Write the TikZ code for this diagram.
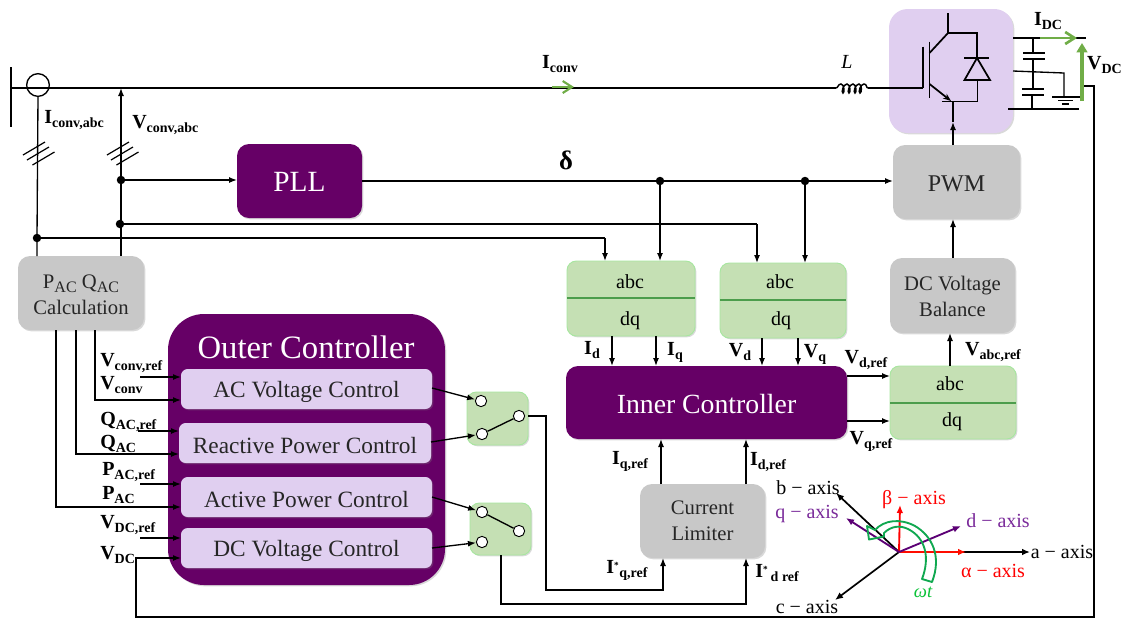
\documentclass[tikz,border=0pt]{standalone}
\usepackage{fontspec}
\setmainfont{Liberation Serif}
\usetikzlibrary{arrows.meta,shadows,calc}
\definecolor{pur}{HTML}{660066}
\definecolor{lav}{HTML}{E0CFF0}
\definecolor{grn}{HTML}{C5E0B4}
\definecolor{grnb}{HTML}{A8E6A0}
\definecolor{gry}{HTML}{C8C8C8}
\definecolor{arr}{HTML}{70AD47}
\definecolor{axp}{HTML}{7A2A9A}
\definecolor{wtg}{HTML}{10A850}
\newcommand{\lb}[2]{{\bfseries\fontsize{15}{15}\selectfont #1\raisebox{-0.45ex}{\fontsize{10.5}{12}\selectfont #2}}}
\newcommand{\fs}[1]{\fontsize{#1}{#1}\selectfont}
\newcommand{\dn}[2]{\raisebox{-#1pt}[\height][\depth]{#2}}
\tikzset{
 x=0.75pt,y=-0.75pt,
 sz/.style 2 args={minimum width=#1*0.75pt,minimum height=#2*0.75pt,inner sep=0pt,outer sep=0pt},
 sh/.style={drop shadow={opacity=.3,shadow xshift=1pt,shadow yshift=-1pt}},
 purbox/.style={fill=pur,text=white,rounded corners=9pt,sh,align=center},
 lavbox/.style={fill=lav,rounded corners=5pt,sh,align=center,text=black!85},
 grnbox/.style={fill=grn,draw=grnb,line width=.7pt,rounded corners=7pt,sh,align=center},
 grybox/.style={fill=gry,rounded corners=9pt,sh,align=center,text=black!85},
 wire/.style={line width=1pt,black},
 ar/.style={wire,-{Latex[length=6pt,width=4.5pt]}},
 lab/.style={inner sep=0pt,anchor=west},
 tlab/.style={inner sep=0pt},
 dot/.style={circle,fill=black,minimum size=8.5pt*0.75,inner sep=0pt},
 cnt/.style={circle,draw=black,fill=white,line width=.7pt,minimum size=8.5pt,inner sep=0pt},
 axtx/.style={inner sep=0pt,font=\fs{15}},
 grnarr/.style={line width=2pt,arr},
 pw/.style={line width=1.3pt},
}
\begin{document}
\begin{tikzpicture}
\useasboundingbox (0,0) rectangle (1123,619);
% boxes
\node[purbox,sz={125}{74},font=\fs{22}] (pll) at (299.5,181) {\dn{1}{PLL}};
\node[grybox,sz={127}{74},font=\fs{18}] (pwm) at (956.5,182) {\dn{1.5}{PWM}};
\node[fill=lav,rounded corners=14pt,sz={124}{124},sh] (conv) at (951,71) {};
\node[grybox,sz={126}{74},font=\fs{15.5}] (pq) at (81,293) {\dn{1.5}{\shortstack[c]{P\raisebox{-.35ex}{\fs{12}AC} Q\raisebox{-.35ex}{\fs{12}AC}\\[3pt]Calculation}}};
\node[purbox,rounded corners=27pt,sz={277}{271}] (outer) at (306.5,449.5) {};
\node[tlab,text=white,font=\fs{24.5}] (outt) at (306,347) {Outer Controller};
\node[lavbox,sz={251}{40},font=\fs{17.5}] (acv) at (306.5,389) {\dn{2}{AC Voltage Control}};
\node[lavbox,sz={252}{40},font=\fs{17.5}] (rpc) at (305,443) {\dn{2}{Reactive Power Control}};
\node[lavbox,sz={251}{40},font=\fs{17.5}] (apc) at (306.5,497) {\dn{2}{Active Power Control}};
\node[lavbox,sz={251}{40},font=\fs{17.5}] (dcv) at (306.5,548) {\dn{2}{DC Voltage Control}};
\node[purbox,sz={281}{73},font=\fs{20.8}] (inner) at (706.5,402.5) {\dn{1.5}{Inner Controller}};
\node[grnbox,sz={128}{75}] (abcA) at (631,298.5) {};
\node[grnbox,sz={126}{75}] (abcB) at (783,300.5) {};
\node[grnbox,sz={126}{73}] (abcC) at (953,402.5) {};
\node[grybox,sz={125}{75},font=\fs{15.5}] (dcb) at (952.5,295.5) {\dn{.7}{\shortstack[c]{DC Voltage\\[3pt]Balance}}};
\node[grybox,sz={125}{74},font=\fs{15.5}] (lim) at (702.5,521) {\shortstack[c]{Current\\[6pt]Limiter}};
\node[grnbox,sz={61}{53}] (swA) at (497.5,418.5) {};
\node[grnbox,sz={61}{52}] (swB) at (500.5,529) {};
% abc dividers and texts
\foreach \n/\y in {abcA/298,abcB/300,abcC/403}{
 \draw[line width=.9pt,green!45!black!70] (\n.west |- 0,\y) -- (\n.east |- 0,\y);}
\node[tlab,font=\fs{15}] (a1) at (630,282) {abc};
\node[tlab,font=\fs{15}] (d1) at (630,321) {dq};
\node[tlab,font=\fs{15}] (a2) at (780,282) {abc};
\node[tlab,font=\fs{15}] (d2) at (781,321) {dq};
\node[tlab,font=\fs{15}] (a3) at (950,384) {abc};
\node[tlab,font=\fs{15}] (d3) at (952,422) {dq};
% grid
\coordinate (busT) at (11,67); \coordinate (busB) at (11,127);
\draw[line width=1.3pt] (busT) -- (busB);
\coordinate (ind) at (836,88);
\coordinate (bus0) at (11,88);
\coordinate (indR) at (868,88);
\draw[line width=1.3pt] (bus0) -- (ind);
\draw[line width=1.1pt] (ind) .. controls (838,88) and (838,84) .. (841,84)
 .. controls (844,84) and (845,93) .. (843,93) .. controls (841,93) and (843,84) .. (847,84)
 .. controls (850,84) and (851,93) .. (849,93) .. controls (847,93) and (849,84) .. (853,84)
 .. controls (856,84) and (857,93) .. (855,93) .. controls (853,93) and (855,84) .. (859,84)
 .. controls (862,84) and (862,93) .. (860,93) .. controls (858,93) and (860,84) .. (864,84)
 .. controls (867,84) and (866,88) .. (indR);
\node[circle,draw=black,line width=1pt,minimum size=17pt,inner sep=0pt] (ct) at (38,85) {};
\node[dot] (dI) at (37,238) {};
\node[dot] (dV1) at (121,180) {};
\node[dot] (dV2) at (120,224) {};
\node[dot] (dP1) at (660,181) {};
\node[dot] (dP2) at (805,181) {};
\draw[wire] (ct.south) -- (dI.center) -- (dI |- pq.north);
\coordinate (busV) at (121,88);
\draw[ar] (pq.north -| busV) -- (busV);
\foreach \x in {0,84}{
 \foreach \dx/\dy in {34/148.5,38/153.5,43.5/158.5}{
  \draw[line width=.9pt] ({\x+\dx-11},{\dy+6.5}) -- ({\x+\dx+11},{\dy-6.5});
 }}
\draw[ar] (dV1.center) -- (pll.west |- dV1);
\draw[ar] (pll.east) -- (pll.east -| pwm.west);
\draw[wire] (dV2.center) -- (757,224) coordinate (c1);
\draw[ar] (c1) -- (c1 |- abcB.north);
\draw[wire] (dI.center) -- (605,238) coordinate (c2);
\draw[ar] (c2) -- (c2 |- abcA.north);
\draw[ar] (dP1.center) -- (dP1 |- abcA.north);
\draw[ar] (dP2.center) -- (dP2 |- abcB.north);
\foreach \x in {612,656}{\draw[ar] (\x,0 |- abcA.south) -- (\x,0 |- inner.north);}
\foreach \x in {762,798}{\draw[ar] (\x,0 |- abcB.south) -- (\x,0 |- inner.north);}
\foreach \y in {376,421}{\draw[ar] (inner.east |- 0,\y) -- (abcC.west |- 0,\y);}
\draw[ar] (abcC.north -| 950,0) -- (950,0 |- dcb.south);
\draw[ar] (dcb.north -| 953,0) -- (953,0 |- pwm.south);
\draw[ar] (lim.north -| 661,0) -- (661,0 |- inner.south);
\draw[ar] (lim.north -| 746,0) -- (746,0 |- inner.south);
% PQ to outer
\draw[ar] (pq.south -| 95,0) -- (95,400) -- (acv.west |- 0,400);
\draw[ar] (pq.south -| 76,0) -- (76,454) -- (rpc.west |- 0,454);
\draw[ar] (pq.south -| 56,0) -- (56,507) -- (apc.west |- 0,507);
\coordinate (r1) at (140,377); \coordinate (r2) at (138,431); \coordinate (r3) at (140,484); \coordinate (r4) at (140,538);
\draw[ar] (r1) -- (acv.west |- r1);
\draw[ar] (r2) -- (rpc.west |- r2);
\draw[ar] (r3) -- (apc.west |- r3);
\draw[ar] (r4) -- (dcv.west |- r4);
% switches
\node[cnt] (s1a) at (481,401) {}; \node[cnt] (s1b) at (482,434) {}; \node[cnt] (s1c) at (519,416) {};
\node[cnt] (s2a) at (482,512) {}; \node[cnt] (s2b) at (482,542) {}; \node[cnt] (s2c) at (519,531) {};
\draw[wire] (s1b) -- (s1c);
\draw[wire] (s2a) -- (s2c);
\draw[ar] (acv.east |- 0,388) -- (s1a);
\draw[ar] (rpc.east |- 0,442) -- (s1b);
\draw[ar] (apc.east |- 0,497) -- (s2a);
\draw[ar] (dcv.east |- 0,548) -- (s2b);
\draw[ar] (swA.east |- s1c) -- (546,0 |- s1c) -- (546,590) -- (663,590) -- (663,0 |- lim.south);
\draw[ar] (swB.south -| 501,0) -- (501,604) -- (746,604) -- (746,0 |- lim.south);
% DC feedback
\coordinate (fb1) at (136,558); \coordinate (fb2) at (136,617); \coordinate (fb3) at (1094,617); \coordinate (fb4) at (1094,86); \coordinate (fb5) at (1083,86);
\draw[ar] (fb5) -- (fb4) -- (fb3) -- (fb2) -- (fb1) -- (dcv.west |- fb1);
% converter
\draw[pw] (indR) -- (923,88);
\draw[pw] (923,46.5) -- (923,88);
\draw[pw] (929.5,41.5) -- (929.5,98);
\draw[pw] (948,13) -- (948,33) -- (929.5,53);
\draw[pw] (948,33) -- (977,33) -- (977,58);
\draw[pw] (964,58) -- (989,58);
\draw[pw] (977,58) -- (964.5,80) -- (990,80) -- cycle;
\draw[pw] (977.5,80) -- (977.5,101.5) -- (942,101.5);
\draw[pw,-{Stealth[length=6pt,width=4.5pt]}] (929.5,84) -- (951,101);
\draw[ar] (pwm.north -| 953,0) -- (953,122);
\draw[wire] (953,122) -- (953,101.5);
% dc side
\draw[pw] (1013,38) -- (1086,38);
\draw[line width=1pt] (1013,71) -- (1064,73) -- (1064,97);
\draw[line width=1pt] (1008,109) -- (1079,109);
\draw[pw] (1033,38) -- (1033,53);
\draw[pw] (1033,59) -- (1033,89);
\draw[pw] (1032,95) -- (1032,109);
\draw[line width=1.3pt] (1023,53) -- (1045,53) (1023,59) -- (1045,59) (1022,89) -- (1044,89) (1022,95) -- (1044,95);
\draw[line width=1pt] (1052,97) -- (1080,97) (1058,100.5) -- (1073,100.5) (1062,104) -- (1069,104);
\draw[grnarr,-{Straight Barb[length=7pt,width=9pt]}] (1040,38) -- (1077,38);
\draw[grnarr,line width=2.4pt,-{Triangle[length=7pt,width=8pt]}] (1082,101) -- (1082,43);
\draw[grnarr,line width=1.6pt,-{Straight Barb[length=7pt,width=9pt]}] (552,87) -- (574,87);
% axes
\coordinate (o) at (899,552);
\draw[line width=1.3pt,-{Latex[length=6pt,width=5pt]}] (o) -- (1030,552);
\draw[line width=1.3pt,-{Latex[length=6pt,width=5pt]}] (o) -- (836,493);
\draw[line width=1.3pt,-{Latex[length=6pt,width=5pt]}] (o) -- (835,600);
\draw[line width=1.8pt,red!90!orange,-{Latex[length=6pt,width=5pt]}] (o) -- (966,552);
\draw[line width=1.4pt,red,-{Latex[length=6pt,width=5pt]}] (o) -- (900,505);
\draw[line width=1.4pt,pur!90!blue,-{Latex[length=6pt,width=5pt]}] (o) -- (961,526);
\draw[line width=1.4pt,pur!90!blue,-{Latex[length=6pt,width=5pt]}] (o) -- (846,518);
\draw[wtg,line width=1.4pt,line join=round] (922,579) .. controls (930,558) and (926,538) .. (908,529)
 .. controls (900,525) and (891,526) .. (884,533) -- (884,536.5) -- (869,539.5) -- (867,526) -- (875,530)
 .. controls (884,520) and (900,518) .. (915,526) .. controls (932,536) and (942,556) .. (932,582) -- cycle;
% labels
\node[lab] (lIabc) at (44,120) {\lb{I}{conv,abc}};
\node[lab] (lVabc) at (132,125) {\lb{V}{conv,abc}};
\node[tlab] (lI) at (560,64) {\lb{I}{conv}};
\node[tlab,font=\fs{15}\itshape] (lL) at (847,62) {L};
\node[tlab,font=\fs{20}\bfseries] (ldel) at (566,160) {δ};
\node[tlab] (lIdc) at (1048,21) {\lb{I}{DC}};
\node[inner sep=0pt,anchor=east] (lVdc) at (1122,65) {\lb{V}{DC}};
\node[lab] (l1) at (100,363) {\lb{V}{conv,ref}};
\node[lab] (l2) at (100,385) {\lb{V}{conv}};
\node[lab] (l3) at (100,422) {\lb{Q}{AC,ref}};
\node[lab] (l4) at (100,444) {\lb{Q}{AC}};
\node[lab] (l5) at (102,472) {\lb{P}{AC,ref}};
\node[lab] (l6) at (102,495) {\lb{P}{AC}};
\node[lab] (l7) at (100,525) {\lb{V}{DC,ref}};
\node[lab] (l8) at (100,555) {\lb{V}{DC}};
\node[tlab] (l9) at (592,350) {\lb{I}{d}};
\node[tlab] (l10) at (675,352) {\lb{I}{q}};
\node[tlab] (l11) at (740,352) {\lb{V}{d}};
\node[tlab] (l12) at (815,354) {\lb{V}{q}};
\node[tlab] (l13) at (866,360) {\lb{V}{d,ref}};
\node[tlab] (l14) at (871,441) {\lb{V}{q,ref}};
\node[tlab] (l15) at (993,352) {\lb{V}{abc,ref}};
\node[tlab] (l16) at (630,461) {\lb{I}{q,ref}};
\node[tlab] (l17) at (768,462) {\lb{I}{d,ref}};
\node[lab] (l18) at (606,570) {\lb{I}{}\textsuperscript{\bfseries *}\lb{}{q,ref}};
\node[lab] (l19) at (755,573) {\lb{I}{}\textsuperscript{\bfseries *}\lb{}{\,d ref}};
% axis labels
\node[axtx] (xb) at (808,488) {b − axis};
\node[axtx,text=axp] (xq) at (807,514) {q − axis};
\node[axtx,text=red] (xbe) at (914,500) {β − axis};
\node[axtx,text=axp] (xd) at (998,521) {d − axis};
\node[axtx] (xa) at (1062,552) {a − axis};
\node[axtx,text=red] (xal) at (993,571) {α − axis};
\node[axtx] (xc) at (807,607) {c − axis};
\node[axtx,text=wtg!70!green,font=\fs{14}\itshape] (xw) at (923,592) {ωt};
\end{tikzpicture}
\end{document}
